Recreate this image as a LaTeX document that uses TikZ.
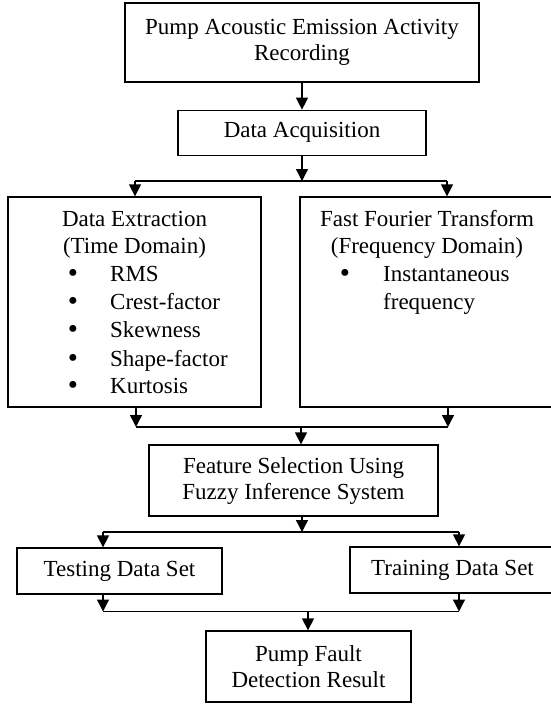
\documentclass[tikz,border=0pt]{standalone}
\usepackage{fontspec}
\setmainfont{Liberation Serif}
\usetikzlibrary{arrows.meta}
\usetikzlibrary{positioning}

\newcommand{\bigdot}{\raisebox{-1.5pt}{\fontsize{29}{29}\selectfont\textbullet}}

\begin{document}
\begin{tikzpicture}[x=1pt,y=-1pt,>={Triangle[length=12pt,width=12pt]},
    box/.style={draw, line width=1.3pt, rectangle, inner sep=0pt, align=center, font=\fontsize{23}{26}\selectfont},
    txt/.style={inner sep=0pt, font=\fontsize{23}{26}\selectfont},
    link/.style={line width=1.3pt}]

    \useasboundingbox (0,0) rectangle (550,704);

    % Nodes
    \node [box, minimum width=354pt, minimum height=79pt] (rec) at (302,42.5) {Pump Acoustic Emission Activity\\Recording};
    \node [box, below=27pt of rec, minimum width=248pt, minimum height=45pt] (acq) {Data Acquisition};
    \node [box, minimum width=253pt, minimum height=210pt] (ext) at (134.5,302) {};
    \node [box, minimum width=255pt, minimum height=210pt] (fft) at (427.5,302) {};
    \node [box, minimum width=289pt, minimum height=71pt] (feat) at (293.5,480.5) {Feature Selection Using\\Fuzzy Inference System};
    \node [box, minimum width=205pt, minimum height=46pt] (test) at (119.5,571) {Testing Data Set};
    \node [box, minimum width=205pt, minimum height=46pt] (train) at (452.5,570) {Training Data Set};
    \node [box, minimum width=205pt, minimum height=71pt] (res) at (308.5,666.5) {Pump Fault\\Detection Result};

    % Box texts
    \node [txt, anchor=base] (extT1) at (134.5,226) {Data Extraction};
    \node [txt, anchor=base] (extT2) at (134.5,253) {(Time Domain)};
    \foreach \y/\item in {281/RMS, 309/Crest-factor, 337/Skewness, 366/Shape-factor, 393/Kurtosis} {
        \node [txt, anchor=base] (dot\y) at (73,\y) {\bigdot};
        \node [txt, anchor=base west] (ext\y) at (110,\y) {\item};
    }
    \node [txt, anchor=base] (fftT1) at (427,226) {Fast Fourier Transform};
    \node [txt, anchor=base] (fftT2) at (427,253) {(Frequency Domain)};
    \node [txt, anchor=base] (fftdot) at (345,281) {\bigdot};
    \node [txt, anchor=base west] (fft1) at (383,281) {Instantaneous};
    \node [txt, anchor=base west] (fft2) at (383,309) {frequency};

    % Junctions
    \coordinate (s1L) at (135,181);
    \coordinate (s1R) at (447,181);
    \coordinate (m2L) at (136,427);
    \coordinate (m2R) at (448,427);
    \coordinate (m2C) at (301,427);
    \coordinate (s3L) at (103,532);
    \coordinate (s3R) at (459,532);
    \coordinate (s3C) at (302,532);
    \coordinate (m4L) at (103,611.5);
    \coordinate (m4R) at (459,611.5);
    \coordinate (m4C) at (308,611.5);

    % Connections
    \draw [link,->] (rec) -- (acq);
    \draw [link,->] (acq) -- (acq |- s1L);
    \draw [link] (s1L) -- (s1R);
    \draw [link,->] (s1L) -- (s1L |- ext.north);
    \draw [link,->] (s1R) -- (s1R |- fft.north);

    \draw [link,->] (m2L |- ext.south) -- (m2L);
    \draw [link,->] (m2R |- fft.south) -- (m2R);
    \draw [link] (m2L) -- (m2R);
    \draw [link,->] (m2C) -- (m2C |- feat.north);

    \draw [link,->] (s3C |- feat.south) -- (s3C);
    \draw [link] (s3L) -- (s3R);
    \draw [link,->] (s3L) -- (s3L |- test.north);
    \draw [link,->] (s3R) -- (s3R |- train.north);

    \draw [link,->] (m4L |- test.south) -- (m4L);
    \draw [link,->] (m4R |- train.south) -- (m4R);
    \draw [link] (m4L) -- (m4R);
    \draw [link,->] (m4C) -- (m4C |- res.north);

\end{tikzpicture}
\end{document}
